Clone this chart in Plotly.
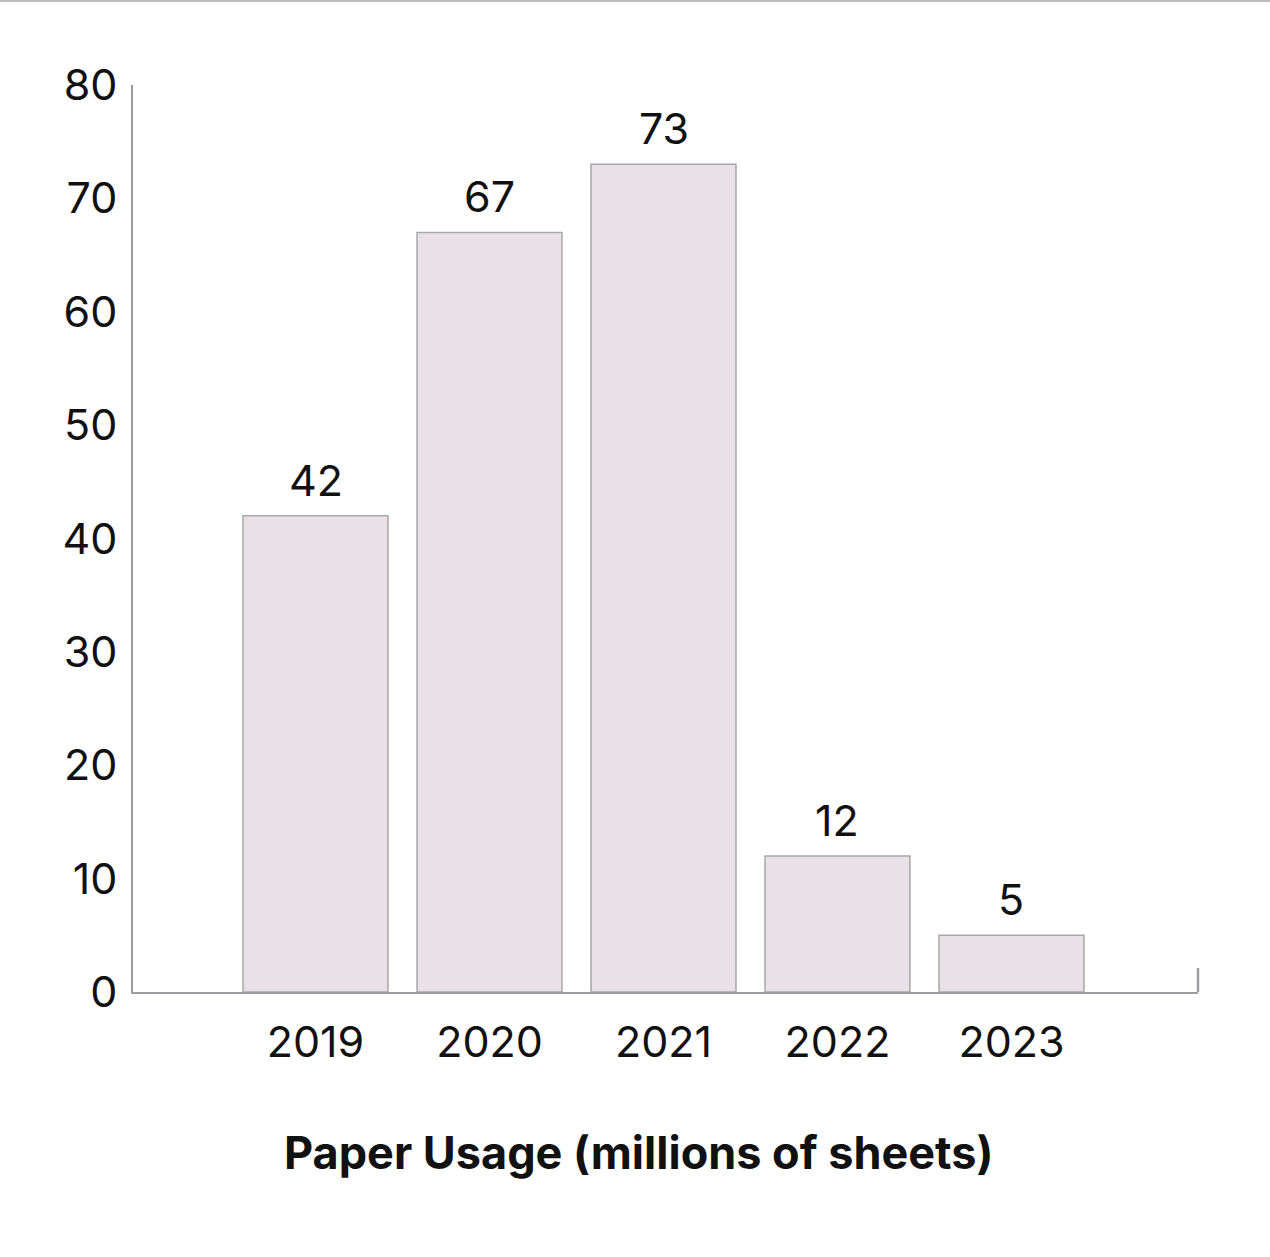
import plotly.graph_objects as go

years = ["2019", "2020", "2021", "2022", "2023"]
usage = [42, 67, 73, 12, 5]
y_ticks = [0, 10, 20, 30, 40, 50, 60, 70, 80]
x_title = "Paper Usage (millions of sheets)"

W, H = 1270, 1257
L, R, T, B = 133, 72, 85, 265
pw, ph = W - L - R, H - T - B
FONT = "Inter"
FS = 43

pos = list(range(len(years)))

fig = go.Figure(go.Bar(
    x=pos, y=usage, width=0.833,
    marker=dict(color="#EAE0E8", line=dict(color="#A8A6A8", width=1.5)),
    hoverinfo="skip",
))

annotations = [dict(
    x=p, y=v, xref="x", yref="y", text=str(v), showarrow=False,
    xanchor="center", yanchor="bottom", yshift=8,
    font=dict(size=FS, color="#111111", family=FONT),
) for p, v in zip(pos, usage)]

annotations.append(dict(
    text="<b>" + x_title + "</b>", xref="paper", yref="paper",
    x=(638 - L) / pw, y=-(1152 - 992) / ph, xanchor="center", yanchor="middle",
    showarrow=False, font=dict(size=45, color="#111111", family=FONT),
))

fig.update_layout(
    width=W, height=H,
    margin=dict(l=L, r=R, t=T, b=B),
    plot_bgcolor="white", paper_bgcolor="white",
    showlegend=False,
    font=dict(family=FONT, color="#111111"),
    xaxis=dict(
        range=[-1.049, 5.072], tickmode="array", tickvals=pos, ticktext=years,
        showgrid=False, zeroline=False, showline=True, linecolor="#9E9CA2", linewidth=2,
        ticks="", tickfont=dict(size=FS, family=FONT), ticklabelstandoff=11,
    ),
    yaxis=dict(
        range=[0, 80], tickmode="array", tickvals=y_ticks,
        showgrid=False, zeroline=False, showline=True, linecolor="#9E9CA2", linewidth=2,
        ticks="", tickfont=dict(size=FS, family=FONT), ticklabelstandoff=5,
    ),
    annotations=annotations,
    shapes=[
        dict(type="line", xref="paper", yref="paper", x0=1, x1=1,
             y0=0, y1=24 / ph, line=dict(color="#9E9CA2", width=2.5)),
        dict(type="line", xref="paper", yref="paper", x0=-L / pw, x1=(W - L) / pw,
             y0=(992 - 1) / ph, y1=(992 - 1) / ph, line=dict(color="#BDBDBD", width=2)),
    ],
)

fig.write_html("out.html", config={"displayModeBar": False},
               post_script="document.body.style.margin='0';")
